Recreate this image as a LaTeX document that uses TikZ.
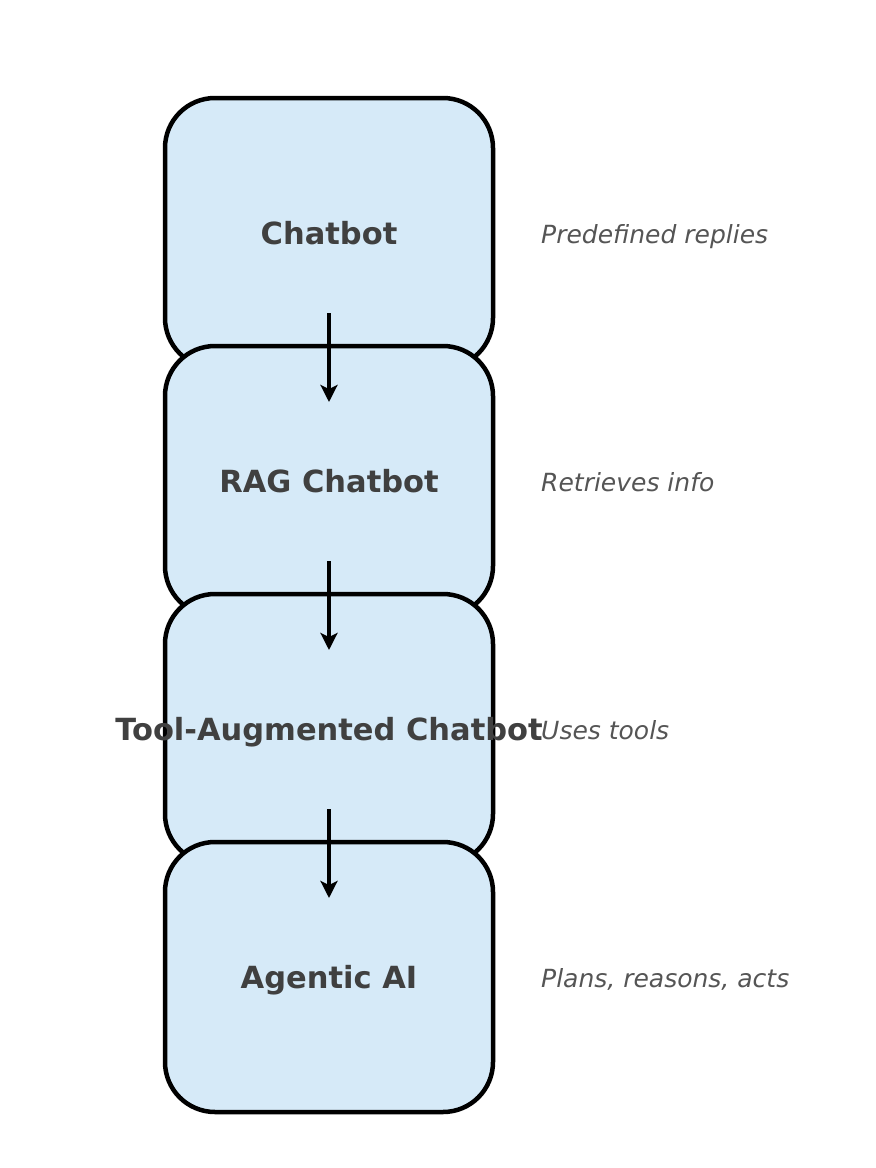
\documentclass[tikz,border=0pt]{standalone}
\usepackage{fontspec}
\setmainfont{DejaVu Sans}
\usetikzlibrary{arrows.meta}
\definecolor{boxfill}{HTML}{D6EAF8}
\definecolor{labtext}{HTML}{404040}
\definecolor{desctext}{HTML}{555555}
\tikzset{
  stagebox/.style={draw=black, fill=boxfill, line width=4.5pt, rounded corners=50pt,
    minimum width=328pt, minimum height=270pt, inner sep=0pt},
  stagelabel/.style={inner sep=0pt, text height=23pt, text depth=0pt, text=labtext,
    font=\fontsize{30.5}{36}\selectfont\bfseries},
  desc/.style={anchor=base west, inner sep=0pt, text=desctext,
    font=\fontsize{25}{30}\selectfont\itshape},
  arr/.style={line width=4pt, -{Stealth[length=17pt,width=17pt,inset=4pt]}}
}
\begin{document}
\begin{tikzpicture}[x=1pt,y=-1pt]
\useasboundingbox (0,0) rectangle (876,1168);
\node[stagebox] (b1) at (329,233) {};
\node[stagebox] (b2) at (329,481) {};
\node[stagebox] (b3) at (329,729) {};
\node[stagebox] (b4) at (329,977) {};
\node[stagelabel] (l1) at (b1.center) {Chatbot};
\node[stagelabel] (l2) at (b2.center) {RAG Chatbot};
\node[stagelabel] (l3) at (b3.center) {Tool-Augmented Chatbot};
\node[stagelabel] (l4) at (b4.center) {Agentic AI};
\node[desc] (d1) at (541,243) {Predefined replies};
\node[desc] (d2) at (541,491) {Retrieves info};
\node[desc] (d3) at (541,739) {Uses tools};
\node[desc] (d4) at (541,987) {Plans, reasons, acts};
\draw[arr] ([yshift=-80pt]b1.center) -- ([yshift=79pt]b2.center);
\draw[arr] ([yshift=-80pt]b2.center) -- ([yshift=79pt]b3.center);
\draw[arr] ([yshift=-80pt]b3.center) -- ([yshift=79pt]b4.center);
\end{tikzpicture}
\end{document}
